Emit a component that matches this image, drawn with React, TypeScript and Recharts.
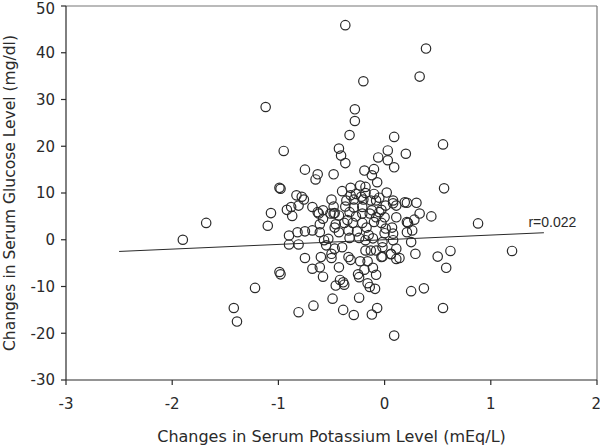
import React from 'react';
import {
  ScatterChart,
  Scatter,
  XAxis,
  YAxis,
  ReferenceLine,
  ReferenceDot,
  Label,
} from 'recharts';

// potassium change (mEq/L)
const potassium = [
  -0.37, 0.39, 0.33, -0.2, -1.12, -0.28, -0.28, -0.33, 0.09, 0.55,
  -0.95, -0.43, 0.03, 0.2, -0.41, -0.37, -0.06, 0.03, 0.09, -0.75,
  -0.63, -0.65, -0.48, -0.19, -0.1, -0.12, 0.56, -0.99, -0.98, -0.4,
  -0.32, -0.23, -0.18, -0.27, -0.83, -0.76, -0.78, -0.88, -0.92, -0.87,
  -0.81, -1.07, -1.1, -1.68, -1.9, -0.68, -0.63, -0.5, -0.58, -0.51,
  -0.48, -0.61, -0.68, -0.61, -0.9, -0.82, -0.9, -0.81, -0.75, -0.99,
  -0.98, -1.22, -0.68, -0.61, -0.58, -0.6, -0.5, -0.55, -0.57, -0.53,
  -0.43, -0.4, -0.34, -0.32, -0.39, -0.38, -0.49, -0.24, -0.25, -0.24,
  -0.19, -0.16, -0.14, -0.09, -0.08, -0.11, -0.23, -0.16, -0.18, -0.13,
  -0.02, 0.06, 0.11, -0.02, 0.08, 0.0, -0.11, -0.18, -0.24, -0.33,
  -0.34, -0.43, -0.47, -0.46, -0.38, -0.3, -0.21, -0.17, -0.1, -0.03,
  0.01, 0.07, 0.0, -0.08, -0.14, -0.21, -0.27, -0.33, -0.43, -0.47,
  -0.62, -0.58, -0.48, -0.37, -0.29, -0.21, -0.12, -0.03, 0.01, 0.08,
  0.02, -0.05, -0.13, -0.2, -0.29, -0.36, -0.32, -0.08, -0.18, -0.1,
  0.08, 0.11, 0.08, 0.11, -0.02, -0.03, -0.08, -0.47, -0.5, -0.46,
  -0.42, 0.21, 0.3, 0.33, 0.44, 0.28, 0.22, 0.88, 0.21, 0.26,
  0.25, 0.14, 0.29, 0.5, 0.62, 1.2, 0.58, 0.25, 0.37, 0.55,
  -1.42, -1.39, -0.81, -0.67, -0.39, -0.29, -0.12, -0.07, 0.09, 0.11,
  0.19, 0.21, 0.06, -0.75, -0.26, -0.15, -0.05, -0.35, -0.22, -0.07,
];

// glucose change (mg/dl)
const glucose = [
  45.9, 40.9, 34.9, 33.9, 28.4, 27.9, 25.4, 22.4, 22.0, 20.4,
  19.0, 19.5, 19.1, 18.4, 18.0, 16.4, 17.6, 17.0, 15.5, 15.0,
  14.0, 12.9, 14.0, 14.8, 15.1, 13.8, 11.0, 11.1, 10.9, 10.4,
  11.1, 11.6, 10.0, 9.8, 9.5, 8.6, 9.2, 7.0, 6.4, 5.1,
  7.3, 5.7, 3.0, 3.6, 0.0, 7.0, 5.9, 8.6, 4.5, 5.6,
  5.6, 3.3, 2.0, 1.6, 0.9, 1.6, -1.0, -1.0, -3.9, -6.9,
  -7.4, -10.3, -6.2, -5.9, -7.9, -3.7, -3.9, -1.2, -0.1, 0.2,
  -5.9, -1.6, -3.7, -4.3, -9.1, -9.6, -12.6, -12.4, -7.4, -8.0,
  -6.4, -9.3, -10.1, -10.5, -7.5, -6.0, -4.6, -4.6, -2.3, -2.3,
  -3.6, -3.1, -4.1, -0.5, 1.3, 1.4, 0.3, -0.1, 0.4, 0.4,
  2.0, 1.6, 2.6, 3.3, 3.6, 3.6, 3.6, 2.6, 3.8, 3.6,
  2.4, 2.6, 4.8, 4.8, 5.6, 5.6, 5.0, 5.9, 5.2, 5.7,
  5.6, 6.3, 7.1, 7.1, 6.9, 7.0, 6.3, 6.4, 7.3, 8.4,
  10.1, 9.0, 8.4, 8.6, 8.6, 8.4, 9.5, 8.4, 11.3, 9.8,
  7.8, 4.8, -0.1, -1.9, -1.6, -3.7, -2.3, -1.9, -3.0, -9.8,
  -8.6, 7.9, 7.9, 5.6, 5.0, 4.3, 3.6, 3.5, 1.6, 2.0,
  -0.5, -3.9, -3.0, -3.6, -2.4, -2.4, -6.0, -11.0, -10.4, -14.6,
  -14.6, -17.5, -15.5, -14.1, -15.0, -16.1, -16.0, -14.6, -20.5, 7.3,
  8.0, 3.8, -3.0, 1.8, 1.8, 1.0, 5.9, 4.2, 9.2, 12.3,
];

const xTicks = [-3, -2, -1, 0, 1, 2];
const yTicks = [-30, -20, -10, 0, 10, 20, 30, 40, 50];

// fitted regression line endpoints
const fitX = [-2.5, 1.5];
const fitY = [-2.5, 1.5];
const rLabel = 'r=0.022';

const points = potassium.map((k, i) => ({ k, g: glucose[i] }));

const FONT = '"DejaVu Sans", Verdana, sans-serif';
const INK = '#2a2a2a';

const OpenCircle = (props: any) => (
  <circle cx={props.cx} cy={props.cy} r={4.7} fill="none" stroke={INK} strokeWidth={1.2} />
);

export default function App() {
  return (
    <div style={{ position: 'absolute', left: 0, top: 0, background: '#fff' }}>
      <ScatterChart
        width={600}
        height={447}
        margin={{ top: 6, right: 3, bottom: 0, left: 0 }}
        style={{ fontFamily: FONT }}
      >
        <XAxis
          type="number"
          dataKey="k"
          domain={[-3, 2]}
          ticks={xTicks}
          allowDataOverflow
          height={67}
          stroke={INK}
          strokeWidth={1.2}
          tickSize={5}
          tickMargin={13}
          tick={{ fill: INK, fontSize: 15, fontFamily: FONT }}
        >
          <Label
            value="Changes in Serum Potassium Level (mEq/L)"
            position="insideBottom"
            offset={5}
            style={{ fill: INK, fontSize: 16, fontFamily: FONT }}
          />
        </XAxis>
        <YAxis
          type="number"
          dataKey="g"
          domain={[-30, 50]}
          ticks={yTicks}
          allowDataOverflow
          width={66}
          stroke={INK}
          strokeWidth={1.2}
          tickSize={5}
          tickMargin={6}
          tick={{ fill: INK, fontSize: 15, fontFamily: FONT }}
        >
          <Label
            value="Changes in Serum Glucose Level (mg/dl)"
            angle={-90}
            position="center"
            dx={-24}
            style={{ fill: INK, fontSize: 15.5, fontFamily: FONT, textAnchor: 'middle' }}
          />
        </YAxis>
        <ReferenceLine y={50} stroke="#777" strokeWidth={1.2} />
        <ReferenceLine x={2} stroke="#777" strokeWidth={1.2} />
        <ReferenceLine
          segment={[
            { x: fitX[0], y: fitY[0] },
            { x: fitX[1], y: fitY[1] },
          ]}
          stroke={INK}
          strokeWidth={1}
        />
        <Scatter data={points} shape={OpenCircle} isAnimationActive={false} />
        <ReferenceDot x={1.58} y={3.7} r={0} fill="none" stroke="none">
          <Label
            value={rLabel}
            position="center"
            style={{ fill: INK, fontSize: 14, fontFamily: '"Liberation Sans", Arial, sans-serif' }}
          />
        </ReferenceDot>
      </ScatterChart>
    </div>
  );
}
